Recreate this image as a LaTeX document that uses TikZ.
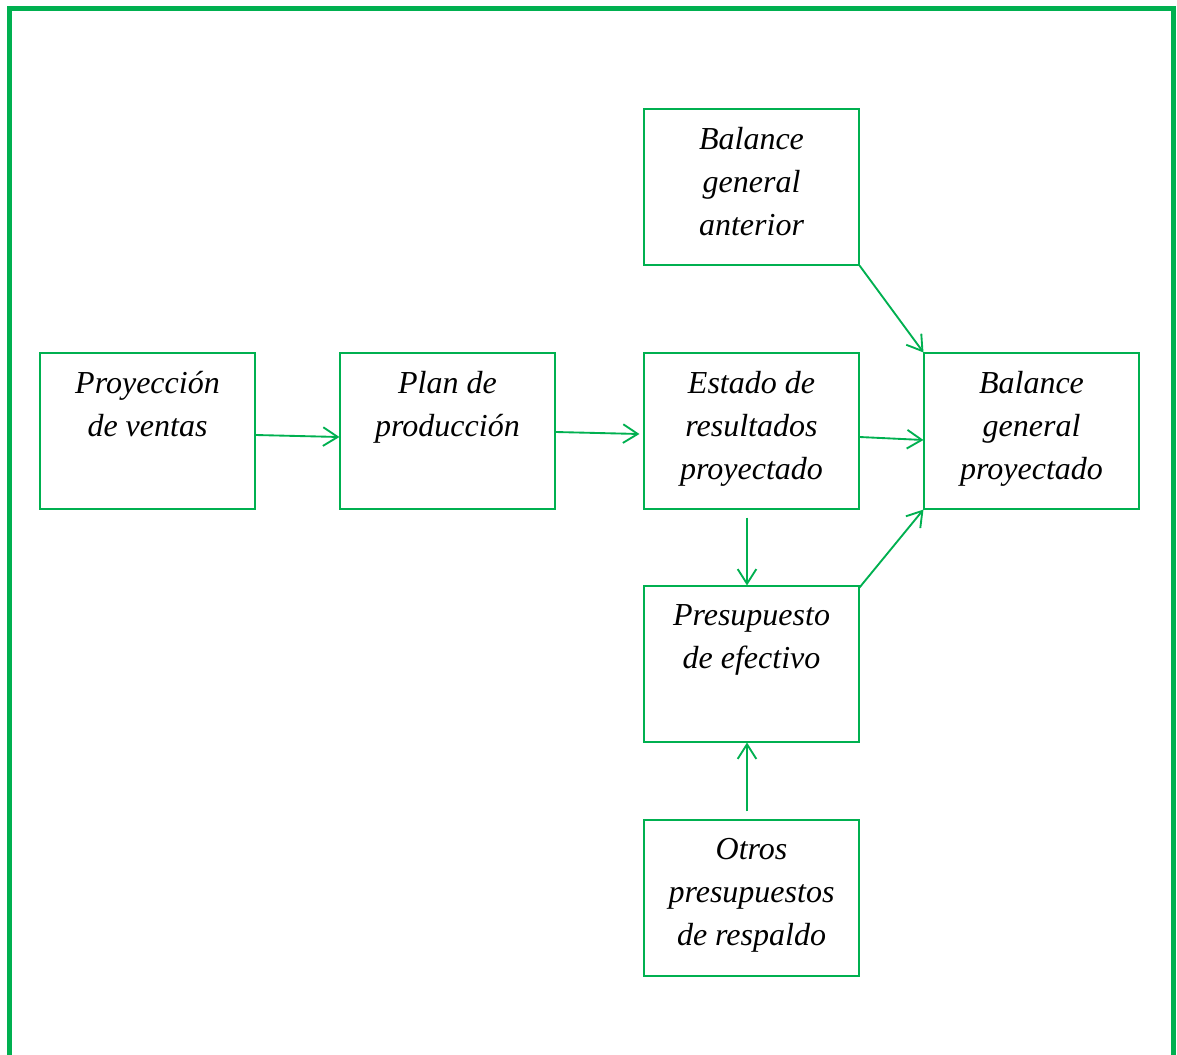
\documentclass[tikz,border=0pt]{standalone}
\usepackage{fontspec}
\setmainfont{Liberation Serif}
\usetikzlibrary{arrows.meta}
\definecolor{vgreen}{HTML}{00B050}
\begin{document}
\begin{tikzpicture}[x=0.75pt,y=-0.75pt,
  box/.style={draw=vgreen, line width=0.8pt, minimum width=161.25pt, minimum height=117pt, inner sep=0pt},
  txt/.style={anchor=north, align=center, inner sep=0pt, yshift=-14.25pt, font=\fontsize{24}{32.25}\selectfont\itshape},
  arr/.style={draw=vgreen, line width=1.4pt, -{Straight Barb[length=11pt,width=14pt]}}]
\useasboundingbox (0,0) rectangle (1177,1055);
\draw [vgreen, line width=3.75pt] (9.5,1060) -- (9.5,8.5) -- (1173.5,8.5) -- (1173.5,1060);
\node[box] (pv)  at (147.5,431) {};
\node[box] (pp)  at (447.5,431) {};
\node[box] (er)  at (751.5,431) {};
\node[box] (bga) at (751.5,187) {};
\node[box] (bgp) at (1031.5,431) {};
\node[box] (pe)  at (751.5,664) {};
\node[box] (op)  at (751.5,898) {};
\node[txt] (pv-t)  at (pv.north)  {Proyección\\de ventas};
\node[txt] (pp-t)  at (pp.north)  {Plan de\\producción};
\node[txt] (er-t)  at (er.north)  {Estado de\\resultados\\proyectado};
\node[txt] (bga-t) at (bga.north) {Balance\\general\\anterior};
\node[txt] (bgp-t) at (bgp.north) {Balance\\general\\proyectado};
\node[txt] (pe-t)  at (pe.north)  {Presupuesto\\de efectivo};
\node[txt] (op-t)  at (op.north)  {Otros\\presupuestos\\de respaldo};
\draw[arr] ([yshift=-3pt]pv.east) -- ([yshift=-4.5pt]pp.west);
\draw[arr] ([yshift=-0.75pt]pp.east) -- ([xshift=-3pt,yshift=-2.25pt]er.west);
\draw[arr] ([yshift=-4.5pt]er.east) -- ([yshift=-6.75pt]bgp.west);
\draw[arr] (bga.south east) -- (bgp.north west);
\draw[arr] ([xshift=-3.375pt,yshift=-6pt]er.south) -- ([xshift=-3.375pt]pe.north);
\draw[arr] ([yshift=-1.5pt]pe.north east) -- (bgp.south west);
\draw[arr] ([xshift=-3.375pt,yshift=6pt]op.north) -- ([xshift=-3.375pt]pe.south);
\end{tikzpicture}
\end{document}
